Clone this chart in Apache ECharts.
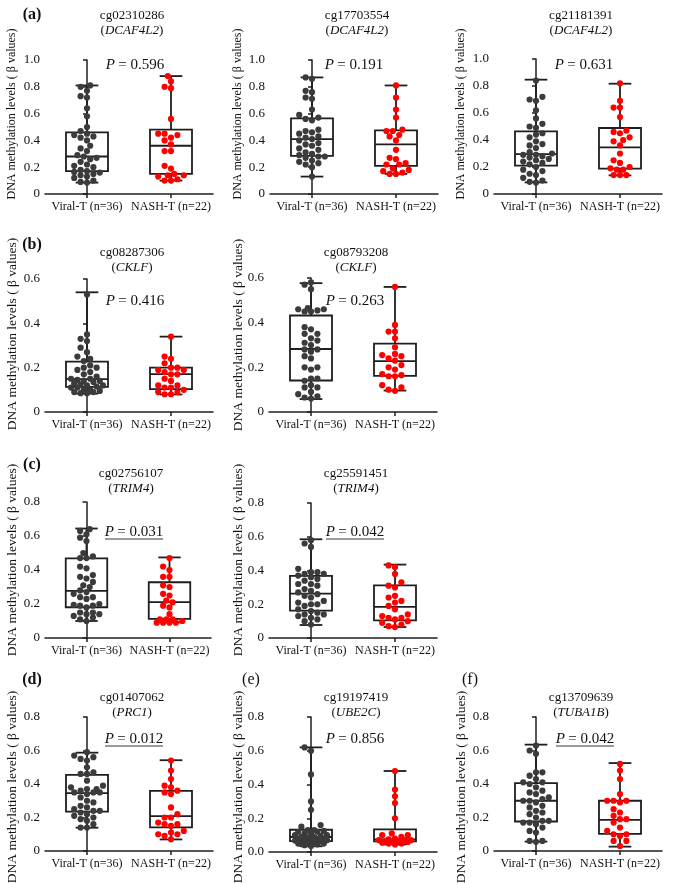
<!DOCTYPE html>
<html>
<head>
<meta charset="utf-8">
<script src="https://cdn.jsdelivr.net/npm/echarts/dist/echarts.min.js"></script>
<style>
  html, body { margin: 0; padding: 0; background: #fff; }
  #chart { width: 673px; height: 883px; }
</style>
</head>
<body>
<div id="chart"></div>
<script>
// ---- data ----
const groupLabels = ['Viral-T (n=36)', 'NASH-T (n=22)'];
const probeIds = ['cg02310286', 'cg17703554', 'cg21181391', 'cg08287306', 'cg08793208',
  'cg02756107', 'cg25591451', 'cg01407062', 'cg19197419', 'cg13709639'];
const geneNames = ['DCAF4L2', 'DCAF4L2', 'DCAF4L2', 'CKLF', 'CKLF', 'TRIM4', 'TRIM4', 'PRC1', 'UBE2C', 'TUBA1B'];
const pValues = ['0.596', '0.191', '0.631', '0.416', '0.263', '0.031', '0.042', '0.012', '0.856', '0.042'];
const significant = [false, false, false, false, false, true, true, true, false, true];
const panelLetters = ['(a)', '', '', '(b)', '', '(c)', '', '(d)', '(e)', '(f)'];
const yMaxValues = [1.0, 1.0, 1.0, 0.6, 0.6, 0.8, 0.8, 0.8, 0.8, 0.8];

// box stats: [min, q1, median, q3, max]
const viralBox_cg02310286 = [0.085, 0.17, 0.28, 0.46, 0.81];
const nashBox_cg02310286 = [0.10, 0.15, 0.36, 0.48, 0.88];
const viralBox_cg17703554 = [0.13, 0.284, 0.41, 0.565, 0.87];
const nashBox_cg17703554 = [0.15, 0.21, 0.37, 0.475, 0.81];
const viralBox_cg21181391 = [0.086, 0.21, 0.296, 0.464, 0.847];
const nashBox_cg21181391 = [0.138, 0.188, 0.346, 0.489, 0.817];
const viralBox_cg08287306 = [0.083, 0.113, 0.148, 0.227, 0.54];
const nashBox_cg08287306 = [0.079, 0.103, 0.171, 0.20, 0.34];
const viralBox_cg08793208 = [0.058, 0.141, 0.282, 0.432, 0.577];
const nashBox_cg08793208 = [0.096, 0.162, 0.228, 0.306, 0.56];
const viralBox_cg02756107 = [0.10, 0.181, 0.277, 0.468, 0.644];
const nashBox_cg02756107 = [0.092, 0.113, 0.211, 0.328, 0.474];
const viralBox_cg25591451 = [0.077, 0.162, 0.263, 0.368, 0.585];
const nashBox_cg25591451 = [0.065, 0.105, 0.184, 0.312, 0.435];
const viralBox_cg01407062 = [0.139, 0.235, 0.345, 0.455, 0.587];
const nashBox_cg01407062 = [0.069, 0.141, 0.208, 0.359, 0.542];
const viralBox_cg19197419 = [0.034, 0.065, 0.089, 0.132, 0.62];
const nashBox_cg19197419 = [0.045, 0.063, 0.075, 0.134, 0.48];
const viralBox_cg13709639 = [0.056, 0.176, 0.30, 0.405, 0.635];
const nashBox_cg13709639 = [0.026, 0.102, 0.186, 0.30, 0.525];

// individual samples
const viral_cg02310286 = [0.81, 0.80, 0.77, 0.73, 0.72, 0.64, 0.58, 0.50, 0.47, 0.45, 0.44, 0.43, 0.42, 0.40, 0.36, 0.34, 0.32, 0.29,
  0.28, 0.27, 0.26, 0.24, 0.22, 0.21, 0.20, 0.18, 0.17, 0.165, 0.16, 0.15, 0.14, 0.13, 0.12, 0.10, 0.09, 0.085];
const nash_cg02310286 = [0.88, 0.84, 0.80, 0.79, 0.56, 0.45, 0.45, 0.44, 0.42, 0.40, 0.37, 0.32, 0.32, 0.21, 0.19, 0.15, 0.14, 0.14, 0.13, 0.11, 0.10, 0.10];
const viral_cg17703554 = [0.87, 0.86, 0.77, 0.76, 0.72, 0.71, 0.63, 0.59, 0.57, 0.56, 0.55, 0.48, 0.47, 0.46, 0.45, 0.43, 0.42, 0.41,
  0.40, 0.38, 0.37, 0.36, 0.34, 0.33, 0.31, 0.30, 0.29, 0.28, 0.28, 0.27, 0.25, 0.24, 0.23, 0.22, 0.20, 0.13];
const nash_cg17703554 = [0.81, 0.72, 0.63, 0.57, 0.48, 0.47, 0.47, 0.44, 0.43, 0.40, 0.33, 0.27, 0.26, 0.23, 0.22, 0.22, 0.19, 0.18, 0.17, 0.16, 0.15, 0.15];
const viral_cg21181391 = [0.84, 0.72, 0.70, 0.69, 0.62, 0.56, 0.52, 0.50, 0.49, 0.45, 0.44, 0.42, 0.39, 0.37, 0.36, 0.34, 0.31, 0.30,
  0.29, 0.29, 0.28, 0.27, 0.26, 0.25, 0.24, 0.23, 0.22, 0.20, 0.18, 0.17, 0.15, 0.14, 0.12, 0.10, 0.09, 0.085];
const nash_cg21181391 = [0.82, 0.69, 0.64, 0.64, 0.57, 0.47, 0.46, 0.45, 0.42, 0.40, 0.39, 0.36, 0.30, 0.25, 0.23, 0.20, 0.19, 0.18, 0.18, 0.14, 0.14, 0.14];
const viral_cg08287306 = [0.53, 0.35, 0.33, 0.32, 0.29, 0.27, 0.25, 0.24, 0.23, 0.21, 0.20, 0.20, 0.19, 0.18, 0.17, 0.16, 0.15, 0.15,
  0.145, 0.14, 0.14, 0.135, 0.13, 0.125, 0.12, 0.12, 0.115, 0.11, 0.11, 0.10, 0.10, 0.095, 0.09, 0.09, 0.085, 0.085];
const nash_cg08287306 = [0.34, 0.25, 0.24, 0.22, 0.20, 0.20, 0.19, 0.19, 0.18, 0.17, 0.17, 0.15, 0.14, 0.12, 0.12, 0.11, 0.11, 0.10, 0.09, 0.09, 0.08, 0.08];
const viral_cg08793208 = [0.58, 0.57, 0.55, 0.465, 0.46, 0.46, 0.455, 0.45, 0.45, 0.38, 0.37, 0.35, 0.35, 0.33, 0.32, 0.31, 0.30, 0.28,
  0.28, 0.27, 0.25, 0.24, 0.20, 0.20, 0.19, 0.15, 0.15, 0.14, 0.12, 0.11, 0.11, 0.09, 0.08, 0.07, 0.065, 0.06];
const nash_cg08793208 = [0.56, 0.39, 0.36, 0.36, 0.33, 0.29, 0.26, 0.255, 0.25, 0.24, 0.23, 0.21, 0.20, 0.19, 0.17, 0.165, 0.16, 0.16, 0.12, 0.11, 0.10, 0.095];
const viral_cg02756107 = [0.64, 0.63, 0.61, 0.59, 0.57, 0.50, 0.48, 0.47, 0.47, 0.42, 0.41, 0.37, 0.36, 0.35, 0.33, 0.31, 0.30, 0.28,
  0.27, 0.26, 0.24, 0.24, 0.23, 0.20, 0.195, 0.19, 0.19, 0.18, 0.15, 0.15, 0.14, 0.14, 0.13, 0.12, 0.11, 0.10];
const nash_cg02756107 = [0.47, 0.42, 0.40, 0.36, 0.36, 0.31, 0.30, 0.26, 0.25, 0.22, 0.21, 0.19, 0.18, 0.14, 0.11, 0.11, 0.11, 0.10, 0.09, 0.09, 0.09, 0.09];
const viral_cg25591451 = [0.58, 0.56, 0.54, 0.41, 0.39, 0.39, 0.38, 0.38, 0.37, 0.36, 0.35, 0.34, 0.32, 0.32, 0.31, 0.29, 0.28, 0.27,
  0.26, 0.25, 0.24, 0.22, 0.21, 0.20, 0.20, 0.19, 0.17, 0.16, 0.15, 0.14, 0.14, 0.13, 0.12, 0.11, 0.10, 0.08];
const nash_cg25591451 = [0.43, 0.42, 0.38, 0.33, 0.31, 0.30, 0.25, 0.24, 0.22, 0.21, 0.19, 0.17, 0.14, 0.13, 0.12, 0.12, 0.11, 0.10, 0.09, 0.08, 0.07, 0.065];
const viral_cg01407062 = [0.59, 0.57, 0.56, 0.55, 0.54, 0.50, 0.47, 0.46, 0.46, 0.42, 0.39, 0.38, 0.37, 0.37, 0.36, 0.35, 0.35, 0.35,
  0.34, 0.32, 0.30, 0.29, 0.27, 0.26, 0.25, 0.24, 0.24, 0.23, 0.22, 0.21, 0.20, 0.19, 0.18, 0.16, 0.14, 0.14];
const nash_cg01407062 = [0.54, 0.48, 0.43, 0.39, 0.38, 0.36, 0.35, 0.34, 0.26, 0.22, 0.20, 0.20, 0.17, 0.16, 0.16, 0.15, 0.12, 0.11, 0.10, 0.10, 0.09, 0.07];
const viral_cg19197419 = [0.62, 0.60, 0.46, 0.30, 0.25, 0.16, 0.15, 0.13, 0.13, 0.125, 0.12, 0.12, 0.11, 0.11, 0.10, 0.10, 0.095, 0.09,
  0.088, 0.085, 0.08, 0.08, 0.075, 0.075, 0.07, 0.07, 0.068, 0.065, 0.06, 0.06, 0.055, 0.05, 0.05, 0.045, 0.04, 0.035];
const nash_cg19197419 = [0.48, 0.37, 0.33, 0.29, 0.20, 0.11, 0.10, 0.10, 0.09, 0.08, 0.075, 0.07, 0.07, 0.07, 0.065, 0.065, 0.06, 0.06, 0.055, 0.05, 0.05, 0.045];
const viral_cg13709639 = [0.63, 0.60, 0.58, 0.47, 0.47, 0.45, 0.43, 0.41, 0.41, 0.40, 0.38, 0.36, 0.35, 0.34, 0.32, 0.31, 0.30, 0.30,
  0.29, 0.27, 0.26, 0.24, 0.23, 0.22, 0.20, 0.18, 0.18, 0.17, 0.17, 0.16, 0.14, 0.12, 0.11, 0.06, 0.06, 0.055];
const nash_cg13709639 = [0.52, 0.48, 0.43, 0.34, 0.30, 0.30, 0.30, 0.29, 0.25, 0.23, 0.21, 0.19, 0.19, 0.17, 0.14, 0.12, 0.10, 0.10, 0.09, 0.06, 0.06, 0.03];

const viralSamples = [viral_cg02310286, viral_cg17703554, viral_cg21181391, viral_cg08287306, viral_cg08793208,
  viral_cg02756107, viral_cg25591451, viral_cg01407062, viral_cg19197419, viral_cg13709639];
const nashSamples = [nash_cg02310286, nash_cg17703554, nash_cg21181391, nash_cg08287306, nash_cg08793208,
  nash_cg02756107, nash_cg25591451, nash_cg01407062, nash_cg19197419, nash_cg13709639];
const viralBoxes = [viralBox_cg02310286, viralBox_cg17703554, viralBox_cg21181391, viralBox_cg08287306, viralBox_cg08793208,
  viralBox_cg02756107, viralBox_cg25591451, viralBox_cg01407062, viralBox_cg19197419, viralBox_cg13709639];
const nashBoxes = [nashBox_cg02310286, nashBox_cg17703554, nashBox_cg21181391, nashBox_cg08287306, nashBox_cg08793208,
  nashBox_cg02756107, nashBox_cg25591451, nashBox_cg01407062, nashBox_cg19197419, nashBox_cg13709639];

// ---- layout (pixels) ----
const layout = [
  { left: 45, top: 60, width: 168, height: 134, nameX: 12, nameY: 114, nameSize: 12, titleY: 15, pX: 135, pY: 65 },
  { left: 270, top: 60, width: 168, height: 134, nameX: 238, nameY: 114, nameSize: 12, titleY: 15, pX: 354, pY: 65 },
  { left: 494, top: 59, width: 168, height: 135, nameX: 461, nameY: 114, nameSize: 12, titleY: 15, pX: 584, pY: 65 },
  { left: 45, top: 279, width: 168, height: 133, nameX: 12, nameY: 334, nameSize: 13.5, titleY: 252, pX: 135, pY: 301 },
  { left: 269, top: 278, width: 168, height: 134, nameX: 238, nameY: 335, nameSize: 13.5, titleY: 252, pX: 355, pY: 301 },
  { left: 45, top: 502, width: 166, height: 136, nameX: 12, nameY: 560, nameSize: 13.5, titleY: 473, pX: 134, pY: 532 },
  { left: 269, top: 503, width: 168, height: 135, nameX: 238, nameY: 560, nameSize: 13.5, titleY: 473, pX: 355, pY: 532 },
  { left: 45, top: 717, width: 168, height: 134, nameX: 12, nameY: 787, nameSize: 13.5, titleY: 697, pX: 134, pY: 739 },
  { left: 269, top: 717, width: 168, height: 135, nameX: 238, nameY: 787, nameSize: 13.5, titleY: 697, pX: 355, pY: 739 },
  { left: 494, top: 717, width: 168, height: 134, nameX: 461, nameY: 787, nameSize: 13.5, titleY: 697, pX: 585, pY: 739 },
];
const letterPos = [[32, 15, true], null, null, [32, 245, true], null, [32, 465, true], null, [32, 680, true], [251, 680, false], [470, 680, false]];

const FONT = '"Liberation Serif", "Times New Roman", serif';
const INK = '#1e1e1e';
const VIRAL_COLOR = '#3b3b3b';
const NASH_COLOR = '#ff0000';
const DOT = 6.2;

// beeswarm: horizontal pixel offsets so dots sit in rows, kept within the box width
function swarmOffsets(values, pxPerUnit) {
  const order = values.map((v, i) => i).sort((a, b) => values[a] - values[b]);
  const placed = [];
  const out = new Array(values.length).fill(0);
  const step = 3.2;
  const minDist = 6.0;
  const maxOff = 19;
  order.forEach((i) => {
    const y = values[i] * pxPerUnit;
    let best = 0;
    let bestGap = -1;
    for (let k = 0; k < 40; k++) {
      const cand = k === 0 ? 0 : (k % 2 ? -1 : 1) * Math.ceil(k / 2) * step;
      if (Math.abs(cand) > maxOff) break;
      let gap = Infinity;
      placed.forEach((p) => {
        gap = Math.min(gap, Math.hypot(p.x - cand, p.y - y));
      });
      if (gap >= minDist) { best = cand; bestGap = gap; break; }
      if (gap > bestGap) { bestGap = gap; best = cand; }
    }
    placed.push({ x: best, y });
    out[i] = best;
  });
  return out;
}

function renderBox(params, api) {
  const x = api.value(0);
  const pMin = api.coord([x, api.value(1)]);
  const pQ1 = api.coord([x, api.value(2)]);
  const pMed = api.coord([x, api.value(3)]);
  const pQ3 = api.coord([x, api.value(4)]);
  const pMax = api.coord([x, api.value(5)]);
  const band = api.size([1, 0])[0];
  const bw = band * 0.5;
  const cw = band * 0.27;
  const cx = pMin[0];
  const style = { stroke: INK, lineWidth: 1.8, fill: null };
  return {
    type: 'group',
    children: [
      { type: 'line', shape: { x1: cx, y1: pMax[1], x2: cx, y2: pQ3[1] }, style },
      { type: 'line', shape: { x1: cx, y1: pQ1[1], x2: cx, y2: pMin[1] }, style },
      { type: 'line', shape: { x1: cx - cw / 2, y1: pMax[1], x2: cx + cw / 2, y2: pMax[1] }, style },
      { type: 'line', shape: { x1: cx - cw / 2, y1: pMin[1], x2: cx + cw / 2, y2: pMin[1] }, style },
      { type: 'rect', shape: { x: cx - bw / 2, y: pQ3[1], width: bw, height: pQ1[1] - pQ3[1] }, style: { stroke: INK, lineWidth: 1.8, fill: '#fff' } },
      { type: 'line', shape: { x1: cx - bw / 2, y1: pMed[1], x2: cx + bw / 2, y2: pMed[1] }, style },
    ],
  };
}

const grids = [];
const xAxes = [];
const yAxes = [];
const series = [];
const graphics = [];

layout.forEach((L, k) => {
  const yMax = yMaxValues[k];
  grids.push({ left: L.left, top: L.top, width: L.width, height: L.height });
  xAxes.push({
    type: 'category', gridIndex: k, data: groupLabels, boundaryGap: true,
    axisLine: { show: true, lineStyle: { color: INK, width: 1.5 } },
    axisTick: { show: true, alignWithLabel: true, length: 4, lineStyle: { color: INK, width: 1.5 } },
    axisLabel: { fontFamily: FONT, fontSize: 12, color: '#111', margin: 7, interval: 0 },
    splitLine: { show: false },
  });
  xAxes.push({ type: 'value', gridIndex: k, min: -0.5, max: 1.5, show: false });
  yAxes.push({
    type: 'value', gridIndex: k, min: 0, max: yMax, interval: 0.2,
    axisLine: { show: true, lineStyle: { color: INK, width: 1.5 } },
    axisTick: { show: true, length: 4, lineStyle: { color: INK, width: 1.5 } },
    axisLabel: {
      fontFamily: FONT, fontSize: 13, color: '#111', margin: 5,
      formatter: (v) => (v === 0 && k !== 8 ? '0' : v.toFixed(1)),
    },
    splitLine: { show: false },
  });

  const pxPerUnitY = L.height / yMax;
  const pxPerUnitX = L.width / 2;
  const vOff = swarmOffsets(viralSamples[k], pxPerUnitY);
  const nOff = swarmOffsets(nashSamples[k], pxPerUnitY);

  series.push({
    type: 'custom', xAxisIndex: 2 * k + 1, yAxisIndex: k, z: 2, silent: true,
    renderItem: renderBox,
    encode: { x: 0, y: [1, 2, 3, 4, 5] },
    data: [[0].concat(viralBoxes[k]), [1].concat(nashBoxes[k])],
  });
  series.push({
    type: 'scatter', xAxisIndex: 2 * k + 1, yAxisIndex: k, z: 3, silent: true,
    symbolSize: DOT, itemStyle: { color: VIRAL_COLOR, opacity: 1 },
    data: viralSamples[k].map((v, i) => [vOff[i] / pxPerUnitX, v]),
  });
  series.push({
    type: 'scatter', xAxisIndex: 2 * k + 1, yAxisIndex: k, z: 3, silent: true,
    symbolSize: DOT, itemStyle: { color: NASH_COLOR, opacity: 1 },
    data: nashSamples[k].map((v, i) => [1 + nOff[i] / pxPerUnitX, v]),
  });

  // probe id + gene
  graphics.push({
    type: 'text', x: L.left + L.width / 2 + 3, y: L.titleY - 7,
    style: {
      text: '{n|' + probeIds[k] + '}\n{n|(}{g|' + geneNames[k] + '}{n|)}',
      align: 'center', verticalAlign: 'top',
      rich: {
        n: { fontFamily: FONT, fontSize: 13, lineHeight: 15, fill: '#111' },
        g: { fontFamily: FONT, fontSize: 13, lineHeight: 15, fontStyle: 'italic', fill: '#111' },
      },
    },
  });
  // P value
  graphics.push({
    type: 'text', x: L.pX, y: L.pY,
    style: {
      text: '{i|P} {n|= ' + pValues[k] + '}',
      align: 'center', verticalAlign: 'middle',
      rich: {
        i: { fontFamily: FONT, fontSize: 15, fontStyle: 'italic', fill: '#111' },
        n: { fontFamily: FONT, fontSize: 15, fill: '#111' },
      },
    },
  });
  if (significant[k]) {
    graphics.push({
      type: 'line', shape: { x1: L.pX - 29, y1: L.pY + 7, x2: L.pX + 29, y2: L.pY + 7 },
      style: { stroke: '#7a7a7a', lineWidth: 1.6 },
    });
  }
  // y-axis name
  graphics.push({
    type: 'text', x: L.nameX, y: L.nameY, rotation: Math.PI / 2,
    style: {
      text: 'DNA methylation levels ( \u03b2 values)',
      align: 'center', verticalAlign: 'middle',
      fontFamily: FONT, fontSize: L.nameSize, fill: '#111',
    },
  });
  if (letterPos[k]) {
    const [lx, ly, bold] = letterPos[k];
    graphics.push({
      type: 'text', x: lx, y: ly,
      style: {
        text: panelLetters[k], align: 'center', verticalAlign: 'middle',
        fontFamily: FONT, fontSize: 16, fontWeight: bold ? 'bold' : 'normal', fill: '#111',
      },
    });
  }
});

const chart = echarts.init(document.getElementById('chart'), null, { renderer: 'canvas' });
chart.setOption({
  animation: false,
  backgroundColor: '#fff',
  grid: grids,
  xAxis: xAxes,
  yAxis: yAxes,
  series: series,
  graphic: graphics,
});
</script>
</body>
</html>
